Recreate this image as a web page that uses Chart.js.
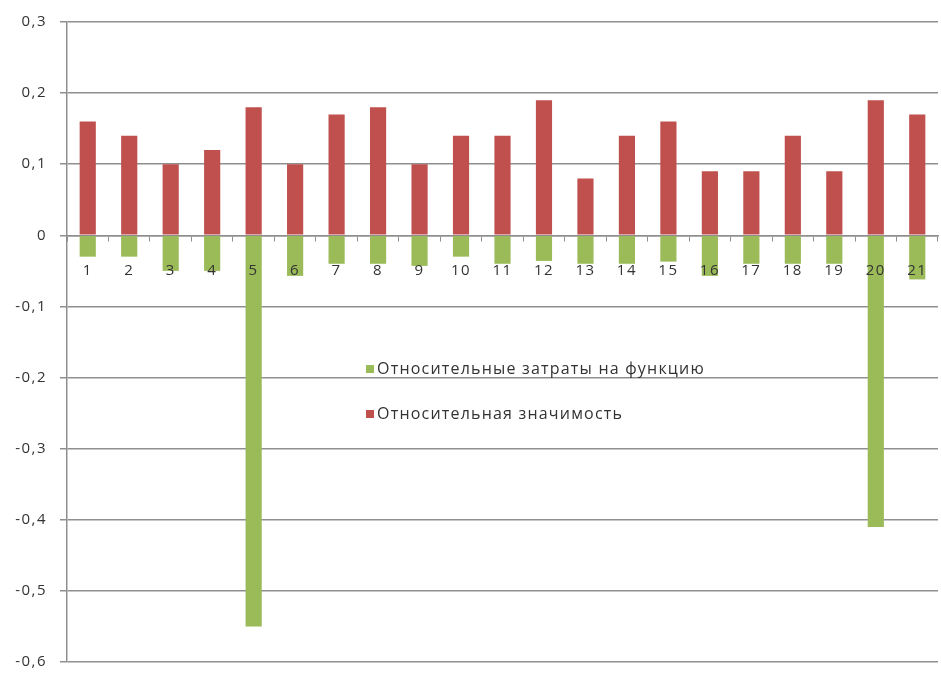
<!DOCTYPE html>
<html>
<head>
<meta charset="utf-8">
<script src="https://cdn.jsdelivr.net/npm/chart.js@4"></script>
<style>
    html, body { margin: 0; padding: 0; background: #fff; }
    #wrap { width: 941px; height: 675px; position: relative; }
</style>
</head>
<body>
<div id="wrap"><canvas id="chart"></canvas></div>
<script>
const categories = ['1', '2', '3', '4', '5', '6', '7', '8', '9', '10', '11', '12', '13', '14', '15', '16', '17', '18', '19', '20', '21'];
const costValues = [-0.03, -0.03, -0.05, -0.05, -0.55, -0.057, -0.04, -0.04, -0.043, -0.03, -0.04, -0.036, -0.04, -0.04, -0.037, -0.057, -0.04, -0.04, -0.04, -0.41, -0.062];
const importanceValues = [0.16, 0.14, 0.10, 0.12, 0.18, 0.10, 0.17, 0.18, 0.10, 0.14, 0.14, 0.19, 0.08, 0.14, 0.16, 0.09, 0.09, 0.14, 0.09, 0.19, 0.17];
const yTicks = [0.3, 0.2, 0.1, 0, -0.1, -0.2, -0.3, -0.4, -0.5, -0.6];

const seriesNames = ['Относительные затраты на функцию', 'Относительная значимость'];
const green = '#9bbb59';
const red = '#c0504d';
const gridColor = '#8f8f8f';
const textColor = '#333333';
const fontFamily = "'Open Sans', 'Noto Sans', sans-serif";

// the original text is a bit wider than Open Sans, widen it a little
const spacing = {
    id: 'spacing',
    beforeUpdate(chart) { chart.ctx.letterSpacing = '1.5px'; },
    beforeDraw(chart) { chart.ctx.letterSpacing = '1.5px'; },
};

// legend sits inside the plot area, like the Excel original
const innerLegend = {
    id: 'innerLegend',
    afterDatasetsDraw(chart) {
        const {ctx} = chart;
        ctx.save();
        ctx.font = `16px ${fontFamily}`;
        ctx.letterSpacing = '1.2px';
        ctx.textBaseline = 'middle';
        chart.data.datasets.forEach((ds, i) => {
            const y = 369 + i * 45;
            ctx.fillStyle = ds.backgroundColor;
            ctx.fillRect(366, y - 4, 8, 8);
            ctx.fillStyle = textColor;
            ctx.fillText(ds.label, 377, y);
        });
        ctx.restore();
    }
};

const fmt = v => String(Math.round(v * 10) / 10).replace('.', ',');

new Chart(document.getElementById('chart'), {
    type: 'bar',
    data: {
        labels: categories,
        datasets: [
            {
                label: seriesNames[0],
                data: costValues,
                backgroundColor: green,
                barPercentage: 0.39,
                categoryPercentage: 1,
            },
            {
                label: seriesNames[1],
                data: importanceValues,
                backgroundColor: red,
                barPercentage: 0.39,
                categoryPercentage: 1,
            },
        ],
    },
    options: {
        responsive: true,
        maintainAspectRatio: false,
        animation: false,
        layout: {
            padding: {top: 22, bottom: 13, left: 0, right: 3},
        },
        scales: {
            x: {
                stacked: true,
                position: {y: 0},
                afterFit: scale => {
                    scale.paddingLeft = 0;
                    scale.paddingRight = 0;
                },
                border: {display: true, color: gridColor, width: 1.5},
                grid: {
                    drawOnChartArea: false,
                    offset: true,
                    tickLength: 5,
                    color: gridColor,
                    lineWidth: 1,
                },
                ticks: {
                    z: 1, // labels go over the bars
                    color: textColor,
                    font: {family: fontFamily, size: 15},
                    padding: 21,
                    maxRotation: 0,
                    autoSkip: false,
                },
            },
            y: {
                stacked: true,
                min: -0.6,
                max: 0.3,
                afterBuildTicks: scale => {
                    scale.ticks = yTicks.map(v => ({value: v}));
                },
                afterFit: scale => {
                    scale.width = 67;
                    scale.paddingTop = 0;
                    scale.paddingBottom = 0;
                },
                border: {display: true, color: gridColor, width: 1.5},
                grid: {
                    color: gridColor,
                    lineWidth: 1.5,
                    tickLength: 7,
                },
                ticks: {
                    color: textColor,
                    font: {family: fontFamily, size: 15},
                    padding: 13,
                    callback: v => fmt(v),
                },
            },
        },
        plugins: {
            legend: {display: false},
            tooltip: {enabled: false},
        },
    },
    plugins: [spacing, innerLegend],
});
</script>
</body>
</html>
